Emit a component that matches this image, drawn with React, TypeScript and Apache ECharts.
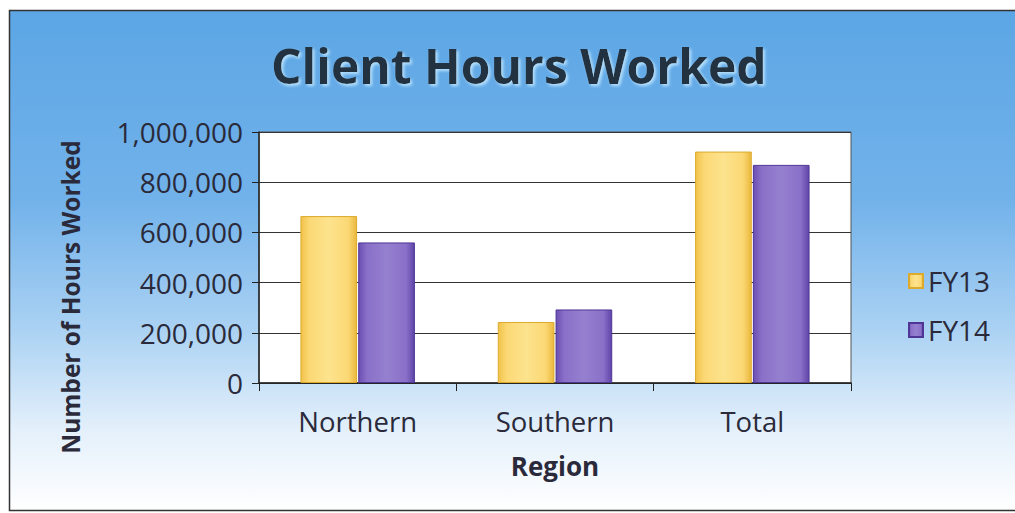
import React, { useEffect, useRef } from "react";
import * as echarts from "echarts";

const categories = ["Northern", "Southern", "Total"];
const fy13 = [665000, 243000, 922000];
const fy14 = [560000, 293000, 869000];
const seriesNames = ["FY13", "FY14"];
const yTicks = { min: 0, max: 1000000, interval: 200000 };
const yAxisTitle = "Number of Hours Worked";

const FONT = "'Open Sans', 'DejaVu Sans', sans-serif";

export default function App() {
  const ref = useRef<HTMLDivElement>(null);
  useEffect(() => {
    document.body.style.margin = "0";
    const chart = echarts.init(ref.current!, null, { renderer: "svg" });
    const yellow = new echarts.graphic.LinearGradient(0, 0, 1, 0, [
      { offset: 0, color: "#f1c24a" },
      { offset: 0.15, color: "#fbd874" },
      { offset: 0.5, color: "#fde38e" },
      { offset: 0.85, color: "#fbd874" },
      { offset: 1, color: "#eab83e" },
    ]);
    const purple = new echarts.graphic.LinearGradient(0, 0, 1, 0, [
      { offset: 0, color: "#6b4fb3" },
      { offset: 0.15, color: "#8a70c8" },
      { offset: 0.5, color: "#9580cf" },
      { offset: 0.85, color: "#8a70c8" },
      { offset: 1, color: "#5f44a8" },
    ]);
    chart.setOption({
      animation: false,
      textStyle: { fontFamily: FONT },
      graphic: [
        {
          type: "rect",
          z: -10,
          silent: true,
          shape: { x: 9.5, y: 10.5, width: 1010, height: 500 },
          style: {
            fill: new echarts.graphic.LinearGradient(0, 0, 0, 1, [
              { offset: 0, color: "#5ca6e5" },
              { offset: 0.38, color: "#72b2ea" },
              { offset: 0.64, color: "#abd2f3" },
              { offset: 0.84, color: "#e4f0fb" },
              { offset: 1, color: "#ffffff" },
            ]),
            stroke: "#333",
            lineWidth: 1.5,
          },
        },
        {
          type: "text",
          x: 70,
          y: 297,
          rotation: Math.PI / 2,
          style: {
            text: yAxisTitle,
            fontFamily: FONT,
            fontSize: 24.5,
            fontWeight: "bold",
            fill: "#2a2a3a",
            align: "center",
            verticalAlign: "middle",
          },
        },
      ],
      title: {
        text: "Client Hours Worked",
        left: 266,
        top: 36,
        textStyle: {
          fontFamily: FONT,
          fontSize: 48,
          fontWeight: "bold",
          color: "#22303f",
          textShadowColor: "rgba(190,230,255,0.9)",
          textShadowBlur: 3,
          textShadowOffsetX: 2,
          textShadowOffsetY: 2,
        },
      },
      legend: {
        orient: "vertical",
        left: 903,
        top: 262,
        itemWidth: 14,
        itemHeight: 14,
        itemGap: 21,
        icon: "rect",
        textStyle: { fontFamily: FONT, fontSize: 28, color: "#2a2a3a" },
        data: seriesNames,
      },
      grid: {
        left: 259,
        right: 164,
        top: 132,
        bottom: 130,
        show: true,
        backgroundColor: "#ffffff",
        borderColor: "#555",
        borderWidth: 1,
      },
      xAxis: {
        type: "category",
        data: categories,
        name: "Region",
        nameLocation: "middle",
        nameGap: 70,
        nameTextStyle: { fontFamily: FONT, fontSize: 26, fontWeight: "bold", color: "#2a2a3a" },
        axisLine: { lineStyle: { color: "#222", width: 1.5 } },
        axisTick: { show: true, length: 8, lineStyle: { color: "#222" } },
        axisLabel: { margin: 24, fontSize: 27.5, color: "#2a2a3a", fontFamily: FONT },
      },
      yAxis: {
        type: "value",
        min: yTicks.min,
        max: yTicks.max,
        interval: yTicks.interval,
        axisLine: { show: true, lineStyle: { color: "#222", width: 1.5 } },
        axisTick: { show: true, length: 7, lineStyle: { color: "#222" } },
        axisLabel: {
          margin: 16,
          fontSize: 28,
          color: "#2a2a3a",
          fontFamily: FONT,
          formatter: (v: number) => v.toLocaleString("en-US"),
        },
        splitLine: { lineStyle: { color: "#333", width: 1 } },
      },
      series: [
        {
          name: seriesNames[0],
          type: "bar",
          data: fy13,
          barGap: "2%",
          barCategoryGap: "42%",
          itemStyle: { color: yellow, borderColor: "#dcaa2c", borderWidth: 1 },
        },
        {
          name: seriesNames[1],
          type: "bar",
          data: fy14,
          itemStyle: { color: purple, borderColor: "#4f3596", borderWidth: 1 },
        },
      ],
    });
    return () => chart.dispose();
  }, []);
  return <div ref={ref} style={{ width: 1015, height: 513 }} />;
}
